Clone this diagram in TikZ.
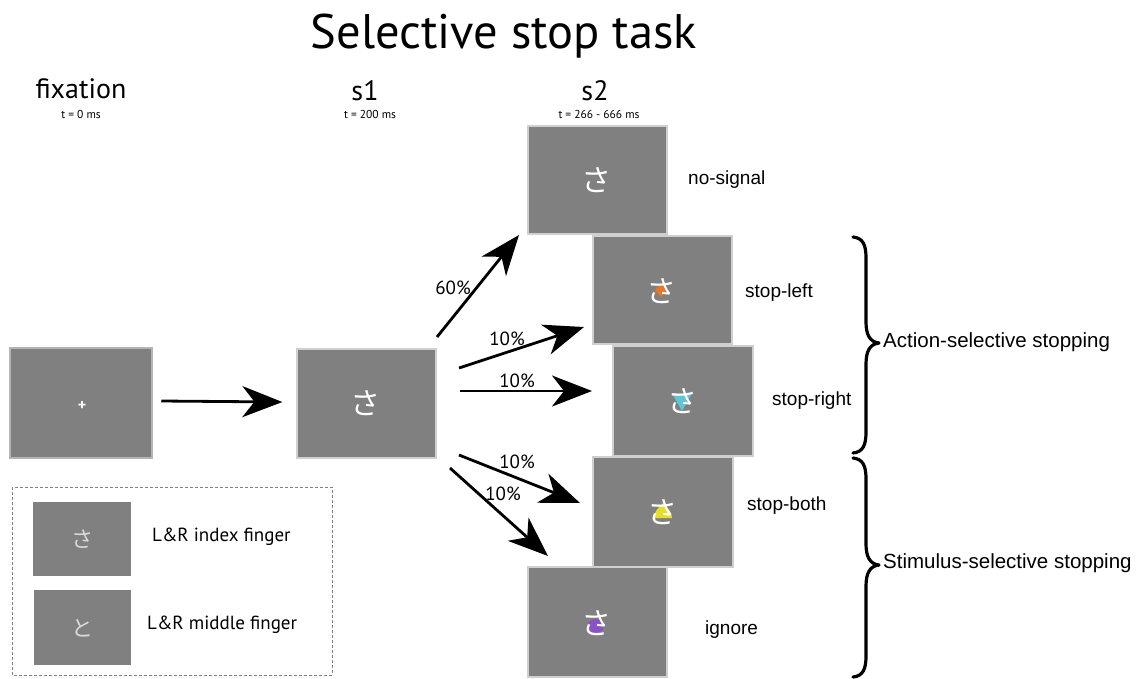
\documentclass[tikz,border=0pt]{standalone}
\usepackage{fontspec}
\setmainfont{PT Sans}
\newfontfamily\arialf{Liberation Sans}
\newfontfamily\jpf{Noto Sans CJK JP}
\usetikzlibrary{arrows.meta}
\definecolor{scrgray}{HTML}{808080}
\definecolor{edgegray}{HTML}{CFCFCF}
\definecolor{fixedge}{HTML}{B4B4B4}
\definecolor{mkorange}{HTML}{E8772A}
\definecolor{mkcyan}{HTML}{5FC6D6}
\definecolor{mkyellow}{HTML}{E6DF2A}
\definecolor{mkpurple}{HTML}{8A52C4}
\definecolor{legchar}{HTML}{DADADA}
\begin{document}
\begin{tikzpicture}[x=1pt,y=-1pt,
  scr/.style={draw=edgegray, line width=1.2pt, fill=scrgray, minimum width=139pt, minimum height=108pt, inner sep=0pt},
  legscr/.style={fill=scrgray, minimum width=98pt, minimum height=74pt, inner sep=0pt},
  ch/.style={text=white, font=\jpf\fontsize{30}{30}\selectfont, inner sep=0pt},
  legch/.style={text=legchar, font=\jpf\fontsize{22}{22}\selectfont, inner sep=0pt},
  arr/.style={line width=2.8pt, -{Stealth[length=40pt,width=31pt,inset=12pt]}},
  pct/.style={font=\fontsize{19}{19}\selectfont, inner sep=0pt, anchor=base},
  lab/.style={font=\arialf\fontsize{19}{19}\selectfont, inner sep=0pt, anchor=mid west},
  grp/.style={font=\arialf\fontsize{20.5}{20.5}\selectfont, inner sep=0pt, anchor=mid west},
  hd/.style={font=\fontsize{28}{28}\selectfont, inner sep=0pt, anchor=base},
  tm/.style={font=\fontsize{11.5}{11.5}\selectfont, inner sep=0pt, anchor=base},
  leg/.style={font=\fontsize{19}{19}\selectfont, inner sep=0pt, anchor=mid west},
  brace/.style={line width=3.2pt, line cap=round, line join=round}
]
\path[use as bounding box, fill=white] (0,0) rectangle (1139,678);

% headings
\node[font=\fontsize{48.5}{48.5}\selectfont, inner sep=0pt, anchor=base] (title) at (504,48) {Selective stop task};
\node[hd] (hfix) at (81,98) {fixation};
\node[hd] (hs1) at (365,100) {s1};
\node[hd] (hs2) at (595,100) {s2};
\node[tm] (tfix) at (81,118) {t = 0 ms};
\node[tm] (ts1) at (370,118) {t = 200 ms};
\node[tm] (ts2) at (599,118) {t = 266 - 666 ms};

% screens
\node[scr, draw=fixedge, line width=2.5pt, minimum width=142pt, minimum height=110pt] (fix) at (81,403) {};
\node[text=white, font=\fontsize{16}{16}\selectfont\bfseries, inner sep=0pt] (plus) at (82,406) {+};
\node[scr, minimum height=109pt] (s1) at (366.5,403.5) {};
\node[ch] (cs1) at (365,403) {さ};

\node[scr] (nosig) at (597.5,180) {};
\node[ch] (cnosig) at (596,180) {さ};

\node[scr] (sleft) at (662.5,290) {};
\fill[mkorange] (661,283) -- (667,291) -- (661,297) -- (655,290) -- cycle;
\node[ch] (csleft) at (661,291) {さ};

\node[scr, minimum width=140pt, minimum height=110pt] (sright) at (683,401) {};
\fill[mkcyan] (673,395) -- (691,395) -- (682,411) -- cycle;
\node[ch] (csright) at (682,401) {さ};

\node[scr, minimum width=140pt, minimum height=110pt] (sboth) at (663,512) {};
\fill[mkyellow] (663,503) .. controls (668,508) and (672,512) .. (672,518) -- (654,518) .. controls (654,512) and (658,508) .. (663,503) -- cycle;
\node[ch] (csboth) at (662,512) {さ};

\node[scr, minimum height=110pt] (ign) at (597.5,622) {};
\fill[mkpurple] (596,626) ellipse [x radius=8pt, y radius=7pt];
\node[ch] (cign) at (596,623) {さ};

% arrows
\draw[arr] ([xshift=8pt,yshift=2pt]fix.east) -- ([xshift=-14pt,yshift=1.5pt]s1.west);
\coordinate (a1s) at (437,337); \coordinate (a1e) at (519,235);
\coordinate (a2s) at (459,368); \coordinate (a2e) at (584,327);
\coordinate (a3s) at (460,391); \coordinate (a3e) at (592,391);
\coordinate (a4s) at (459,455); \coordinate (a4e) at (580,503);
\coordinate (a5s) at (450,468); \coordinate (a5e) at (548,556);
\draw[arr] (a1s) -- (a1e);
\draw[arr] (a2s) -- (a2e);
\draw[arr] (a3s) -- (a3e);
\draw[arr] (a4s) -- (a4e);
\draw[arr] (a5s) -- (a5e);
\node[pct] (p1) at (453,294) {60\%};
\node[pct] (p2) at (507,345) {10\%};
\node[pct] (p3) at (517,387) {10\%};
\node[pct] (p4) at (517,468) {10\%};
\node[pct] (p5) at (503,500) {10\%};

% labels
\node[lab] (lnosig) at (688,182) {no-signal};
\node[lab] (lsleft) at (745,295) {stop-left};
\node[lab] (lsright) at (772,403) {stop-right};
\node[lab] (lsboth) at (747,508) {stop-both};
\node[lab] (lign) at (705,632) {ignore};

% braces
\draw[brace] (853,237) .. controls (863,238) and (866,245) .. (866,258) -- (866,322)
  .. controls (866,335) and (870,342) .. (879,343)
  .. controls (870,344) and (866,351) .. (866,364) -- (866,432)
  .. controls (866,445) and (863,452) .. (853,453);
\draw[brace] (853,458) .. controls (863,459) and (866,466) .. (866,479) -- (866,544)
  .. controls (866,557) and (870,564) .. (879,565)
  .. controls (870,566) and (866,573) .. (866,586) -- (866,656)
  .. controls (866,669) and (863,676) .. (853,677);
\node[grp] (gact) at (883,345) {Action-selective stopping};
\node[grp] (gstim) at (883,566) {Stimulus-selective stopping};

% legend
\draw[draw=gray, line width=1pt, dash pattern=on 3pt off 2pt] (12,487) rectangle (332,675);
\node[legscr] (leg1) at (82,539) {};
\node[legch] (cleg1) at (82,539) {さ};
\node[legscr, minimum width=97pt, minimum height=75pt] (leg2) at (82.5,627.5) {};
\node[legch] (cleg2) at (82,628) {と};
\node[leg] (tleg1) at (152,539) {L\&R index finger};
\node[leg] (tleg2) at (147,627) {L\&R middle finger};
\end{tikzpicture}
\end{document}
